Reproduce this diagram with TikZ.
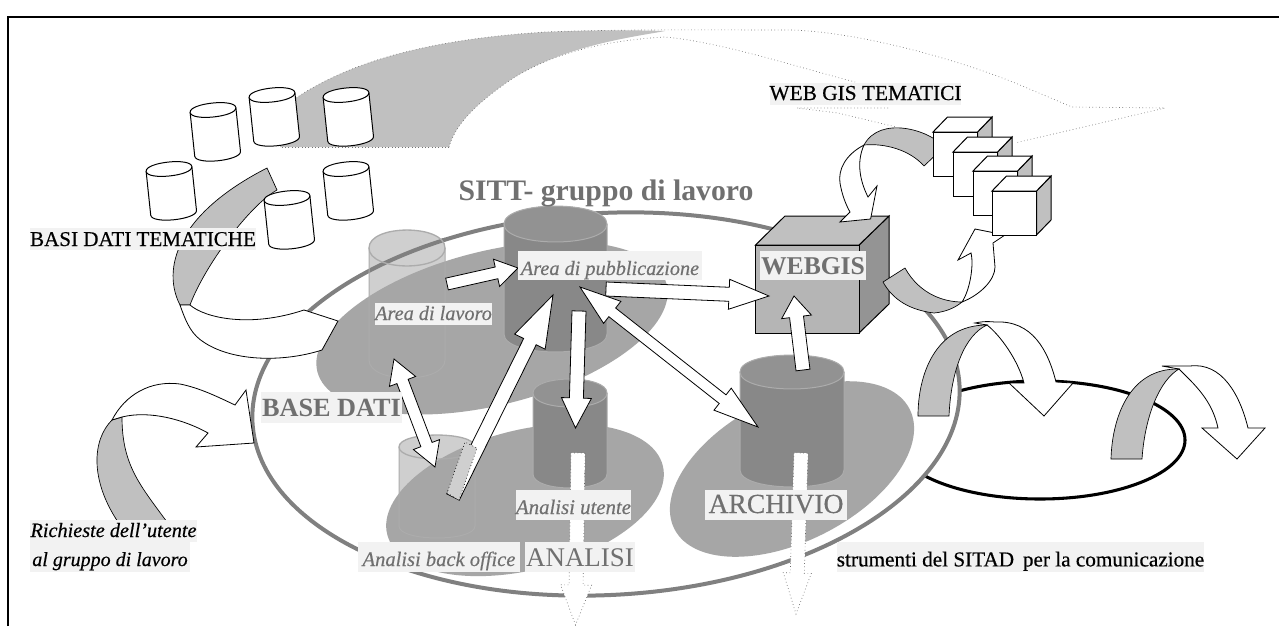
\documentclass[tikz,border=0pt]{standalone}
\usepackage{fontspec}
\setmainfont{Liberation Serif}
\newfontfamily\semi[FakeBold=0.4]{Liberation Serif}
\usetikzlibrary{calc}
\definecolor{lbg}{HTML}{F2F2F2}
\definecolor{swoosh}{HTML}{C0C0C0}
\definecolor{blobc}{HTML}{A6A6A6}
\definecolor{cyld}{HTML}{888888}
\definecolor{cylt}{HTML}{929292}
\definecolor{cyle}{HTML}{ACACAC}
\definecolor{dith}{HTML}{CFCFCF}
\definecolor{ringc}{HTML}{808080}
\definecolor{greytxt}{HTML}{707070}
\tikzset{
  x=0.75pt,y=-0.75pt,
  lbl/.style={fill=lbg,inner sep=0pt,outer sep=0pt,align=center,text depth=0.5pt,text height=#1},
  lbl/.default=14pt,
  fine/.style={line width=0.75pt,draw=black},
  ribbon/.style={line width=0.6pt,draw=black,fill=white},
  band/.style={line width=0.5pt,draw=black,fill=swoosh},
  trail/.style={line width=0.5pt,draw=black!55,dotted},
  block/.style={line width=0.6pt,draw=black,fill=white},
  ghost/.style={line width=0.5pt,draw=black!60,fill=white,dotted},
}
\newcommand\cylbody[6]{%
  \fill[#6] (#1,#3) -- (#1,#5) .. controls +(0,#4*1.33) and +(0,#4*1.33) .. (#2,#5) -- (#2,#3)
     .. controls +(0,-#4*1.33) and +(0,-#4*1.33) .. (#1,#3) -- cycle;}
\newcommand\cyltop[5]{%
  \draw[#5] (#1,#3) .. controls +(0,-#4*1.33) and +(0,-#4*1.33) .. (#2,#3)
     .. controls +(0,#4*1.33) and +(0,#4*1.33) .. (#1,#3) -- cycle;}
\newcommand\cylside[6]{%
  \draw[#6] (#1,#3) -- (#1,#5) .. controls +(0,#4*1.33) and +(0,#4*1.33) .. (#2,#5) -- (#2,#3);}
% arrow: x1 y1 x2 y2 w hw hl style
\newcommand\barrow[8]{%
  \pgfmathsetmacro\bL{veclen(#3-#1,#4-#2)}%
  \pgfmathsetmacro\bA{atan2(-(#4-#2),#3-#1)}%
  \path[#8,shift={(#1,#2)},rotate=\bA] (0,-#5) -- (\bL-#7,-#5) -- (\bL-#7,-#6) -- (\bL,0) -- (\bL-#7,#6) -- (\bL-#7,#5) -- (0,#5) -- cycle;}
% double arrow: x1 y1 x2 y2 w hw hl1 hl2
\newcommand\darrow[8]{%
  \pgfmathsetmacro\bL{veclen(#3-#1,#4-#2)}%
  \pgfmathsetmacro\bA{atan2(-(#4-#2),#3-#1)}%
  \path[block,shift={(#1,#2)},rotate=\bA] (0,0) -- (#7,-#6) -- (#7,-#5) -- (\bL-#8,-#5) -- (\bL-#8,-#6) -- (\bL,0) -- (\bL-#8,#6) -- (\bL-#8,#5) -- (#7,#5) -- (#7,#6) -- cycle;}
\newcommand\smalldb[2]{%
  \begin{scope}[shift={(#1,#2)},rotate=6]
    \cylbody{-23}{23}{0}{7}{44}{white}
    \cylside{-23}{23}{0}{7}{44}{fine}
    \cyltop{-23}{23}{0}{7}{fine,fill=white}
  \end{scope}}
\newcommand\cube[2]{% front top-left corner
  \begin{scope}[shift={(#1,#2)}]
    \path[fine,fill=swoosh] (44.5,0) -- (59,-15) -- (59,29) -- (44.5,44) -- cycle;
    \path[fine,fill=white] (0,0) -- (14.5,-15) -- (59,-15) -- (44.5,0) -- cycle;
    \path[fine,fill=white] (0,0) rectangle (44.5,44);
  \end{scope}}
\begin{document}
\begin{tikzpicture}
\useasboundingbox (0,0) rectangle (1279,626);
\fill[white] (0,0) rectangle (1279,626);
% frame
\draw[line width=1.5pt] (8,626) -- (8,17) -- (1279,17);
% top grey swoosh
\fill[swoosh] (296,98) .. controls (360,55) and (450,38) .. (545,32) .. controls (590,30) and (630,30) .. (665,31)
   .. controls (640,36) and (560,45) .. (506,83) .. controls (475,105) and (455,125) .. (449,147) -- (280,147) -- cycle;
\draw[trail] (449,147) -- (280,147);
\draw[trail] (449,147) .. controls (455,125) and (475,105) .. (506,83) .. controls (550,52) and (610,40) .. (665,37) .. controls (720,42) and (790,65) .. (855,82);
\draw[trail] (296,98) .. controls (360,55) and (450,38) .. (545,32) .. controls (620,29) and (720,30) .. (791,30) .. controls (860,32) and (960,60) .. (1020,85) -- (1072,107) -- (1165,108) -- (1015,143);
\draw[trail] (888,108) -- (797,108) -- (838,113) -- (896,127);
% black ellipse
\draw[line width=2.3pt,fill=white] (1040,440) ellipse [x radius=145,y radius=59];
% big ring
\draw[line width=3pt,draw=ringc,fill=white,rotate around={3:(606,404)}] (606,404) ellipse [x radius=354,y radius=191];
% translucent cylinders, lower parts
\cylbody{369}{445}{248}{18}{360}{dith}
\cylbody{399}{475}{447}{12}{526}{dith}
\begin{scope}
 \clip (369,220) rectangle (445,300);
 \draw[line width=3pt,draw=ringc,rotate around={3:(606,404)}] (606,404) ellipse [x radius=354,y radius=191];
\end{scope}
% blobs
\fill[blobc,rotate around={14:(492,328)}] (492,328) ellipse [x radius=180,y radius=77];
\fill[blobc,rotate around={14:(525,500)}] (525,500) ellipse [x radius=142,y radius=70];
\fill[blobc,rotate around={27:(792,469)}] (792,469) ellipse [x radius=132,y radius=72];
% outlines of translucent cylinders
\cylside{369}{445}{248}{18}{360}{line width=0.75pt,draw=cyle}
\cyltop{369}{445}{248}{18}{line width=1pt,draw=cyle}
\cylside{399}{475}{447}{12}{526}{line width=0.75pt,draw=cyle}
\cyltop{399}{475}{447}{12}{line width=1pt,draw=cyle}
% solid cylinders
\cylbody{504}{607}{224}{18}{334}{cyld}
\cylside{504}{607}{224}{18}{334}{line width=0.75pt,draw=cyle}
\cyltop{504}{607}{224}{18}{line width=0.75pt,draw=cyle,fill=cylt}
\cylbody{533}{607}{393}{14}{474}{cyld}
\cylside{533}{607}{393}{14}{474}{line width=0.75pt,draw=cyle}
\cyltop{533}{607}{393}{14}{line width=0.75pt,draw=cyle,fill=cylt}
\cylbody{740}{844}{372}{17}{470}{cyld}
\cylside{740}{844}{372}{17}{470}{line width=0.75pt,draw=cyle}
\cyltop{740}{844}{372}{17}{line width=0.75pt,draw=cyle,fill=cylt}
% dotted outgoing arrows
\barrow{578}{453}{575.5}{625}{7}{15.5}{40}{ghost}
\barrow{801}{453}{796}{614}{7}{14}{41}{ghost}
% WEBGIS cube
\path[fine,fill=black!42] (859,245) -- (889,216) -- (889,304) -- (859,333) -- cycle;
\path[fine,fill=swoosh] (755.5,245) -- (785,216) -- (889,216) -- (859,245) -- cycle;
\path[fine,fill=black!29] (755.5,245) rectangle (859,333);
% straight arrows
\barrow{447}{284}{518}{268}{6}{14}{22}{block}
\barrow{606}{289}{769}{296}{7}{15}{40}{block}
\barrow{579}{311}{575.5}{428}{7}{15}{30}{block}
\darrow{580}{287}{758}{427}{5.5}{14}{41}{45}
\barrow{453}{497}{553}{295}{7}{17}{52}{block}
\path[line width=0.5pt,draw=black,dotted,fill=dith] (447,493) -- (459,500) -- (477,448) -- (465,442) -- cycle;
\darrow{394}{359}{435}{467}{6}{14}{24}{24}
\barrow{803}{370}{794}{296}{7}{15}{21}{block}
% curved ribbons : Basi dati
\path[band] (267,168) -- (277,190) .. controls (250,205) and (205,265) .. (190,305) -- (180,305) .. controls (162,270) and (175,215) .. (267,168) -- cycle;
\path[ribbon] (190,305) .. controls (205,318) and (250,328) .. (304,310) -- (338,321) -- (322,350) .. controls (285,362) and (235,362) .. (205,343) .. controls (192,335) and (187,325) .. (180,305) -- cycle;
% Richieste
\path[band] (112,420) .. controls (92,440) and (90,480) .. (118,522) -- (167,522) .. controls (140,485) and (122,465) .. (122,417) -- cycle;
\path[ribbon] (112,420) .. controls (125,395) and (150,380) .. (180,384) .. controls (200,388) and (218,397) .. (235,405) -- (246,390) -- (254,443) -- (196,447) -- (208,433) .. controls (185,420) and (150,410) .. (122,417) -- cycle;
% webgis curved arrows
\path[ribbon] (864,145) .. controls (845,155) and (838,170) .. (840,183) .. controls (842,195) and (846,205) .. (850,212) -- (840,222) -- (870.6,219) -- (877,186) -- (868,197) .. controls (862,185) and (855,165) .. (864,145) -- cycle;
\path[band] (944,147) .. controls (930,130) and (880,115) .. (864,145) .. controls (885,143) and (910,150) .. (924,166) -- cycle;
\path[ribbon] (962,302) .. controls (980,295) and (995,280) .. (995,267) -- (993,243) -- (1005,235) -- (975,229) -- (958,260) -- (971,253) .. controls (974,265) and (970,290) .. (962,302) -- cycle;
\path[band] (883,282) .. controls (893,300) and (910,310) .. (934,313) .. controls (945,312) and (955,308) .. (962,302) .. controls (945,302) and (920,295) .. (905,268) -- cycle;
% cubes
\cube{933}{132}
\cube{953}{152}
\cube{973}{171}
\cube{992}{191}
% right arrows
\path[ribbon] (987,325) .. controls (1000,335) and (1018,360) .. (1024,383) -- (1009,383) -- (1044,416) -- (1073,383) -- (1056,382) .. controls (1048,350) and (1032,320) .. (995,322) .. controls (985,321) and (980,322) .. (975,323) -- cycle;
\path[band] (918,416) .. controls (918,375) and (935,325) .. (987,325) .. controls (965,335) and (951,370) .. (949,416) -- cycle;
\path[ribbon] (1179,369) .. controls (1195,385) and (1212,400) .. (1218,428) -- (1202,428) -- (1237,459) -- (1265,428) -- (1248,428) .. controls (1240,395) and (1222,362) .. (1190,366) -- (1162,366) -- cycle;
\path[band] (1111,459) .. controls (1112,420) and (1128,368) .. (1179,369) .. controls (1160,380) and (1145,415) .. (1142,459) -- cycle;
% small databases
\smalldb{213}{110}
\smalldb{272}{95}
\smalldb{346}{95}
\smalldb{169}{169}
\smalldb{346}{169}
\smalldb{287}{198}
% labels
\node[lbl=11pt,text=black,minimum width=170pt,minimum height=16.5pt] (basi) at (143,239) {\fontsize{15.8}{16}\semi BASI DATI TEMATICHE};
\node[lbl=9.5pt,text=black,minimum width=143pt,minimum height=16.5pt] (webtem) at (865.5,94) {\fontsize{16}{16}\semi WEB GIS TEMATICI};
\node[text=greytxt,inner sep=0pt,anchor=base] (sitt) at (606,200) {\fontsize{22.3}{22}\selectfont\bfseries SITT- gruppo di lavoro};
\node[lbl=14.7pt,text=greytxt,minimum width=138pt,minimum height=22pt] (pub) at (610,265.5) {\fontsize{15.2}{15}\semi\itshape Area di pubblicazione};
\node[lbl=9.5pt,text=greytxt,minimum width=88pt,minimum height=16.5pt] (lav) at (433.5,314) {\fontsize{15.2}{15}\semi\itshape Area di lavoro};
\node[lbl=13.3pt,text=greytxt,minimum width=106pt,minimum height=23pt] (based) at (331.5,407.5) {\fontsize{19.7}{20}\selectfont\bfseries BASE DATI};
\node[lbl=13.3pt,text=greytxt,minimum width=79pt,minimum height=22pt] (wg) at (813,265.5) {\fontsize{19.2}{20}\selectfont\bfseries WEBGIS};
\node[lbl=14pt,text=greytxt,minimum width=86pt,minimum height=22.5pt] (utente) at (573.5,505) {\fontsize{15.6}{15}\semi\itshape Analisi utente};
\node[lbl=14pt,text=greytxt,minimum width=121.5pt,minimum height=22.5pt] (back) at (439,557) {\fontsize{15.4}{15}\semi\itshape Analisi back office};
\node[lbl=14.6pt,text=greytxt,minimum width=82.5pt,minimum height=22.5pt] (anal) at (580,557) {\fontsize{20.2}{20}\selectfont ANALISI};
\node[lbl=12.5pt,text=greytxt,minimum width=106.5pt,minimum height=22.5pt] (arch) at (776,505) {\fontsize{20.7}{20}\semi ARCHIVIO};
\node[lbl=9.5pt,text=black,minimum width=125pt,minimum height=16.5pt] (ric1) at (113.5,531) {\fontsize{15.2}{15}\semi\itshape Richieste dell’utente};
\node[lbl=14pt,text=black,minimum width=120pt,minimum height=22.5pt] (ric2) at (110,557) {\fontsize{15}{15}\semi\itshape al gruppo di lavoro};
\node[lbl=14.6pt,text=black,minimum width=275pt,minimum height=22.5pt] (str) at (1020.5,557) {\fontsize{15.9}{15}\semi strumenti del SITAD\, per la comunicazione};
\end{tikzpicture}
\end{document}
